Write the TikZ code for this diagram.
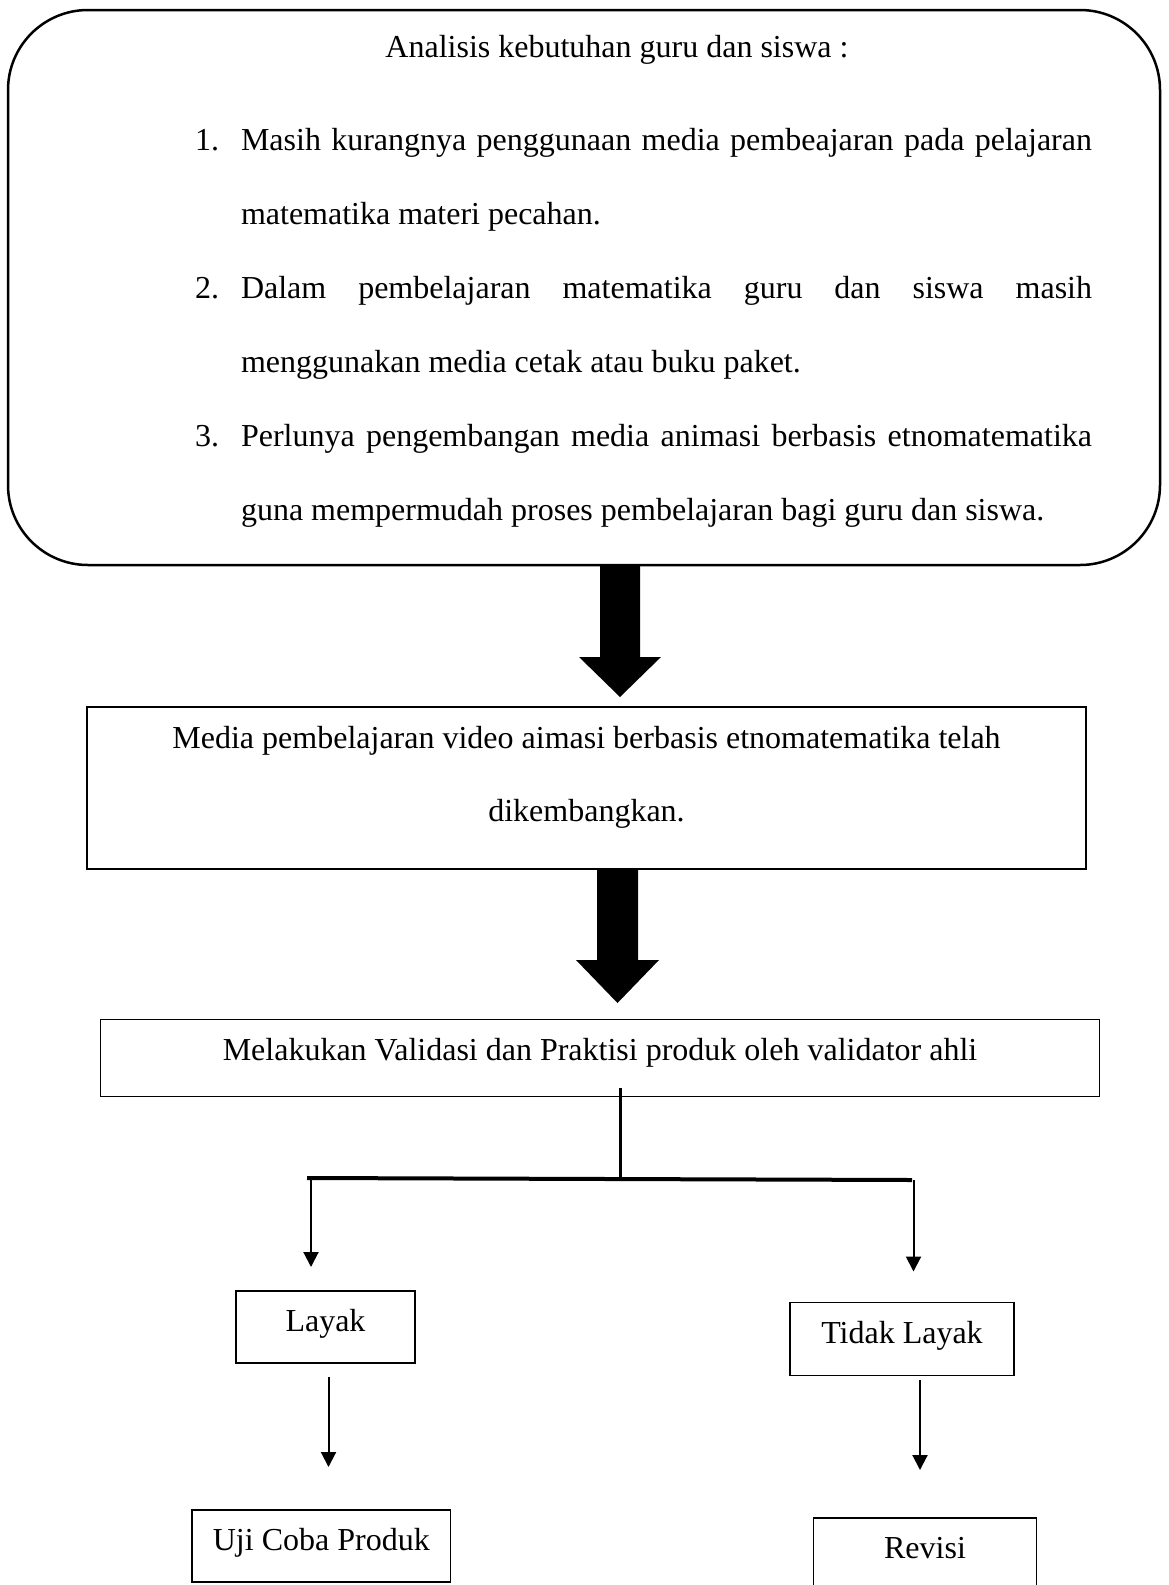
\documentclass[tikz,border=0pt]{standalone}
\usepackage{fontspec}
\setmainfont{Liberation Serif}
\usetikzlibrary{calc,arrows.meta}
\tikzset{
  txt/.style={inner sep=0pt, outer sep=0pt, anchor=base west, font=\fontsize{32}{38}\selectfont},
  ctxt/.style={inner sep=0pt, outer sep=0pt, anchor=base, font=\fontsize{32}{38}\selectfont},
  boxshape/.style={draw, line width=1.5pt, inner sep=0pt, outer sep=0pt},
  thinarrow/.style={line width=2pt, -{Triangle[length=15pt,width=15pt]}},
  blockarrow/.style={fill=black},
}
\begin{document}
\begin{tikzpicture}[x=1pt,y=-1pt]
\useasboundingbox (0,0) rectangle (1168,1585);
% top rounded box
\draw[line width=2.5pt, rounded corners=80pt] (8,10) rectangle (1160,565);
\node[ctxt] (title) at (617,57) {Analisis kebutuhan guru dan siswa :};
\node[txt] (n1) at (195,150) {1.};
\node[txt] (l1a) at (241,150) {\makebox[851pt][s]{Masih kurangnya penggunaan media pembeajaran pada pelajaran}};
\node[txt] (l1b) at (241,224) {matematika materi pecahan.};
\node[txt] (n2) at (195,298) {2.};
\node[txt] (l2a) at (241,298) {\makebox[851pt][s]{Dalam pembelajaran matematika guru dan siswa masih}};
\node[txt] (l2b) at (241,372) {menggunakan media cetak atau buku paket.};
\node[txt] (n3) at (195,446) {3.};
\node[txt] (l3a) at (241,446) {\makebox[851pt][s]{Perlunya pengembangan media animasi berbasis etnomatematika}};
\node[txt] (l3b) at (241,520) {guna mempermudah proses pembelajaran bagi guru dan siswa.};
% block arrow 1
\fill[blockarrow] (600,565) -- (640,565) -- (640,657) -- (661,657) -- (620,697) -- (579,657) -- (600,657) -- cycle;
% box 2
\draw[boxshape] (87,707) rectangle (1086,869);
\node[ctxt] (b2a) at (586.5,748) {Media pembelajaran video aimasi berbasis etnomatematika telah};
\node[ctxt] (b2b) at (586.5,821) {dikembangkan.};
% block arrow 2
\fill[blockarrow] (597,869) -- (638,869) -- (638,960) -- (659,960) -- (617.5,1003) -- (576,960) -- (597,960) -- cycle;
% box 3
\node[boxshape, minimum width=999pt, minimum height=77pt] (box3) at (600,1058) {};
\node[ctxt] (b3) at (600,1060) {Melakukan Validasi dan Praktisi produk oleh validator ahli};
% tree
\coordinate (t0) at (620,1088);
\coordinate (t1) at (620,1178);
\coordinate (hl) at (307,1178);
\coordinate (hr) at (912,1180);
\draw[line width=3pt] (t0) -- (t1);
\draw[line width=4pt] (hl) -- (hr);
% Layak
\node[boxshape, minimum width=179pt, minimum height=72pt] (layak) at (325.5,1327) {};
\node[ctxt] (layakt) at (325.5,1331) {Layak};
\node[boxshape, minimum width=224pt, minimum height=73pt] (tidak) at (902,1339) {};
\node[ctxt] (tidakt) at (902,1343.5) {Tidak Layak};
\node[boxshape, minimum width=258.5pt, minimum height=72pt] (uji) at (321.3,1546) {};
\node[ctxt] (ujit) at (321.3,1550.5) {Uji Coba Produk};
\node[boxshape, minimum width=223pt, minimum height=74pt] (revisi) at (925,1555) {};
\node[ctxt] (revisit) at (925,1558) {Revisi};
% arrows
\draw[thinarrow] ($(hl)+(4,0)$) -- ($(hl |- layak.north)+(4,-24)$);
\draw[thinarrow] ($(hr)+(1.5,0)$) -- ($(hr |- tidak.north)+(1.5,-31)$);
\draw[thinarrow] ($(layak.south)+(3,14)$) -- ($(layak.south |- uji.north)+(3,-43)$);
\draw[thinarrow] ($(tidak.south)+(18,4)$) -- ($(tidak.south |- revisi.north)+(18,-48)$);
\end{tikzpicture}
\end{document}
